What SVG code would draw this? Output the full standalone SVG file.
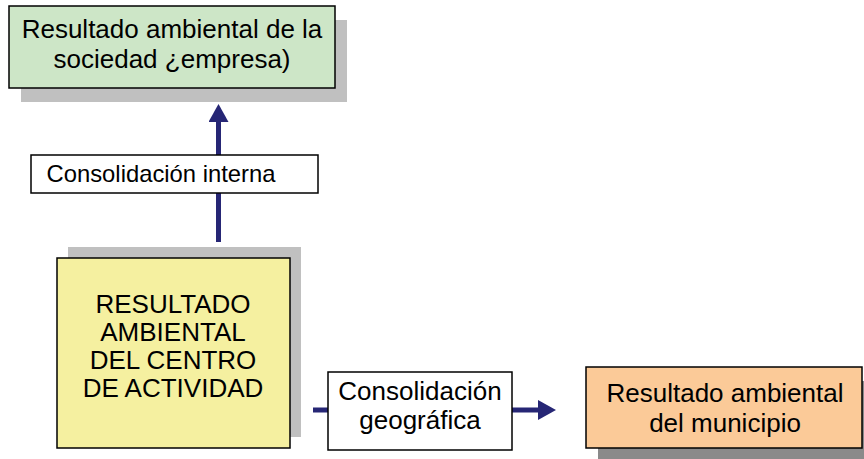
<svg xmlns="http://www.w3.org/2000/svg" width="864" height="459" viewBox="0 0 864 459">
  <style>
    .box { stroke: #000; stroke-width: 1.5; }
    .shadow { fill: #c0c0c0; }
    .shadow-dark { fill: #8a8a8a; }
    .label { fill: #fff; stroke: #000; stroke-width: 1.5; }
    .t { font-family: "Liberation Sans", Arial, sans-serif; fill: #000; text-anchor: middle; }
    .conn { stroke: #262675; stroke-width: 5; fill: none; }
  </style>
  <defs>
    <marker id="arrow" markerUnits="userSpaceOnUse" markerWidth="18" markerHeight="20" refX="0" refY="10" orient="auto" viewBox="0 0 18 20">
      <path d="M0,0 L18,10 L0,20 z" fill="#262675"/>
    </marker>
  </defs>
  <rect width="864" height="459" fill="#fff"/>

  <g id="connectors">
    <line class="conn" x1="218.5" y1="242" x2="218.5" y2="122" marker-end="url(#arrow)"/>
    <line class="conn" x1="313" y1="410" x2="538" y2="410" marker-end="url(#arrow)"/>
  </g>

  <g id="node-sociedad">
    <rect class="shadow" x="21" y="20" width="326" height="82"/>
    <rect class="box" x="9" y="6" width="326" height="82" fill="#cde6c7"/>
    <text class="t" font-size="26" x="172" y="38">Resultado ambiental de la</text>
    <text class="t" font-size="26" x="172" y="68">sociedad ¿empresa)</text>
  </g>

  <g id="label-interna">
    <rect class="label" x="31" y="155" width="287" height="38"/>
    <text class="t" font-size="23.8" x="161" y="182">Consolidación interna</text>
  </g>

  <g id="node-centro">
    <rect class="shadow" x="68" y="247" width="233" height="190"/>
    <rect class="box" x="57" y="258" width="233" height="190" fill="#f5f0a0"/>
    <text class="t" font-size="26" x="173" y="313">RESULTADO</text>
    <text class="t" font-size="26" x="173" y="341">AMBIENTAL</text>
    <text class="t" font-size="26" x="173" y="369">DEL CENTRO</text>
    <text class="t" font-size="26" x="173" y="397">DE ACTIVIDAD</text>
  </g>

  <g id="label-geografica">
    <rect class="label" x="328" y="372" width="184" height="78"/>
    <text class="t" font-size="26" x="420" y="400">Consolidación</text>
    <text class="t" font-size="26" x="420" y="429">geográfica</text>
  </g>

  <g id="node-municipio">
    <rect class="shadow-dark" x="598" y="381" width="276" height="81"/>
    <rect class="box" x="586" y="367" width="276" height="81" fill="#fbca98"/>
    <text class="t" font-size="26" x="725" y="402">Resultado ambiental</text>
    <text class="t" font-size="26" x="725" y="432">del municipio</text>
  </g>
</svg>
